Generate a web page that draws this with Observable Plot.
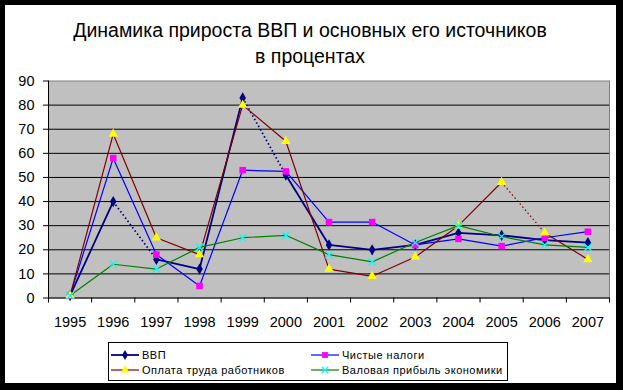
<!DOCTYPE html>
<html>
<head>
<meta charset="utf-8">
<script src="https://cdn.jsdelivr.net/npm/d3@7"></script>
<script src="https://cdn.jsdelivr.net/npm/@observablehq/plot@0.6"></script>
<style>
  html, body { margin: 0; padding: 0; background: #000; }
  #page { position: relative; width: 623px; height: 390px; background: #000; overflow: hidden; font-family: "Liberation Sans", Arial, sans-serif; }
  #inner { position: absolute; left: 5px; top: 5px; width: 611px; height: 378px; background: #fff; }
  .title { position: absolute; left: 0; width: 620px; text-align: center; font-size: 19.5px; color: #000; white-space: nowrap; }
  #chart { position: absolute; left: 0; top: 0; }
  #legend { position: absolute; left: 108px; top: 342px; width: 398px; height: 37px; border: 1px solid #000; background: #fff; font-size: 11px; }
  .item { position: absolute; display: flex; align-items: center; height: 14px; white-space: nowrap; letter-spacing: 0.5px; }
  .item svg { margin-right: 3px; }
</style>
</head>
<body>
<div id="page">
  <div id="inner"></div>
  <div id="chart"></div>
  <div class="title" style="top:19px">Динамика прироста ВВП и основных его источников</div>
  <div class="title" style="top:45px">в процентах</div>
  <div id="legend"></div>
</div>
<script>
const years = [1995, 1996, 1997, 1998, 1999, 2000, 2001, 2002, 2003, 2004, 2005, 2006, 2007];
const seriesNames = ["ВВП", "Чистые налоги", "Оплата труда работников", "Валовая прибыль экономики"];
const vvp    = [1, 40, 16, 12, 83, 51, 22, 20, 22, 27, 26, 24, 23];
const taxes  = [1, 58, 18, 5, 53, 52.5, 31.5, 31.5, 22, 24.5, 21.5, 25, 27.5];
const wages  = [1, 68, 25, 18, 80, 65, 12, 9, 17, 30, 48, 27, 16];
const profit = [1, 14, 12, 21, 25, 26, 18, 15, 23, 30, 25.5, 22, 21];
const yTicks = [0, 10, 20, 30, 40, 50, 60, 70, 80, 90];
const gridValues = [10, 20, 30, 40, 50, 60, 70, 80];
// segments (series, start year) that render as dotted in the original
const dottedSegments = [["ВВП", 1996], ["ВВП", 1999], ["Оплата труда работников", 2005]];

const styles = {
  "ВВП": {line: "#000080", marker: "#000080", symbol: "diamond", r: 3.4, width: 1.8, kind: "fill"},
  "Чистые налоги": {line: "#0000FF", marker: "#FF00FF", symbol: "square", r: 3.7, width: 1.2, kind: "fill"},
  "Оплата труда работников": {line: "#800000", marker: "#FFFF00", symbol: "triangle", r: 3.5, width: 1.2, kind: "fill"},
  "Валовая прибыль экономики": {line: "#008000", marker: "#00FFFF", symbol: "times", r: 3.4, width: 1.2, kind: "stroke"}
};

const valuesBySeries = [vvp, taxes, wages, profit];
const rows = [];
seriesNames.forEach((s, i) => years.forEach((yr, j) => rows.push({series: s, year: yr, value: valuesBySeries[i][j]})));

const boundaries = d3.range(years.length + 1).map(i => years[0] - 0.5 + i);

const marks = [
  Plot.frame({fill: "#C0C0C0", stroke: "#808080"}),
  Plot.ruleY(gridValues, {stroke: "#000", strokeWidth: 1}),
  Plot.ruleX([boundaries[0]], {stroke: "#000"}),
  Plot.ruleY([0], {stroke: "#000"}),
  Plot.axisY({ticks: yTicks, tickSize: 5, tickPadding: 9, tickFormat: d => String(d), label: null}),
  Plot.axisX({ticks: boundaries, tickSize: 5, tickFormat: () => "", label: null}),
  Plot.axisX({ticks: years, tickSize: 0, tickPadding: 19, tickFormat: d => String(d), label: null})
];

seriesNames.forEach((s, i) => {
  const st = styles[s];
  const pts = rows.filter(d => d.series === s);
  const segs = pts.slice(0, -1).map((d, k) => ({x1: d.year, y1: d.value, x2: pts[k + 1].year, y2: pts[k + 1].value,
    dotted: dottedSegments.some(([n, y]) => n === s && y === d.year)}));
  marks.push(Plot.link(segs.filter(d => !d.dotted), {x1: "x1", y1: "y1", x2: "x2", y2: "y2", stroke: st.line, strokeWidth: st.width}));
  marks.push(Plot.link(segs.filter(d => d.dotted), {x1: "x1", y1: "y1", x2: "x2", y2: "y2", stroke: st.line, strokeWidth: st.width, strokeDasharray: "1.5,2.5"}));
  if (st.kind === "fill") {
    marks.push(Plot.dot(pts, {x: "year", y: "value", symbol: () => st.symbol, fill: st.marker, stroke: "none", r: st.r}));
  } else {
    marks.push(Plot.dot(pts, {x: "year", y: "value", symbol: () => st.symbol, stroke: st.marker, strokeWidth: 1.3, r: st.r}));
  }
});

const chart = Plot.plot({
  width: 623,
  height: 340,
  marginLeft: 48,
  marginRight: 14,
  marginTop: 80.5,
  marginBottom: 42.5,
  style: {background: "transparent", fontFamily: "'Liberation Sans', Arial, sans-serif", fontSize: "14.5px", color: "#000", overflow: "visible"},
  x: {type: "linear", domain: [boundaries[0], boundaries[boundaries.length - 1]]},
  y: {domain: [0, 90]},
  symbol: {type: "identity"},
  marks
});
document.getElementById("chart").appendChild(chart);

// legend
const legend = document.getElementById("legend");
const positions = [[2, 6], [202, 6], [2, 21], [202, 21]];
seriesNames.forEach((s, i) => {
  const st = styles[s];
  const item = document.createElement("div");
  item.className = "item";
  item.style.left = positions[i][0] + "px";
  item.style.top = (positions[i][1] - 1) + "px";
  const svg = d3.create("svg").attr("width", 28).attr("height", 12);
  svg.append("line").attr("x1", 0).attr("x2", 28).attr("y1", 6).attr("y2", 6).attr("stroke", st.line).attr("stroke-width", st.width);
  const symMap = {diamond: d3.symbolDiamond, square: d3.symbolSquare, triangle: d3.symbolTriangle, times: d3.symbolTimes};
  const path = svg.append("path").attr("transform", "translate(14,6)")
    .attr("d", d3.symbol(symMap[st.symbol], Math.PI * st.r * st.r * 0.8)());
  if (st.kind === "fill") path.attr("fill", st.marker); else path.attr("fill", "none").attr("stroke", st.marker).attr("stroke-width", 1.2);
  item.appendChild(svg.node());
  const span = document.createElement("span");
  span.textContent = s;
  item.appendChild(span);
  legend.appendChild(item);
});
</script>
</body>
</html>
